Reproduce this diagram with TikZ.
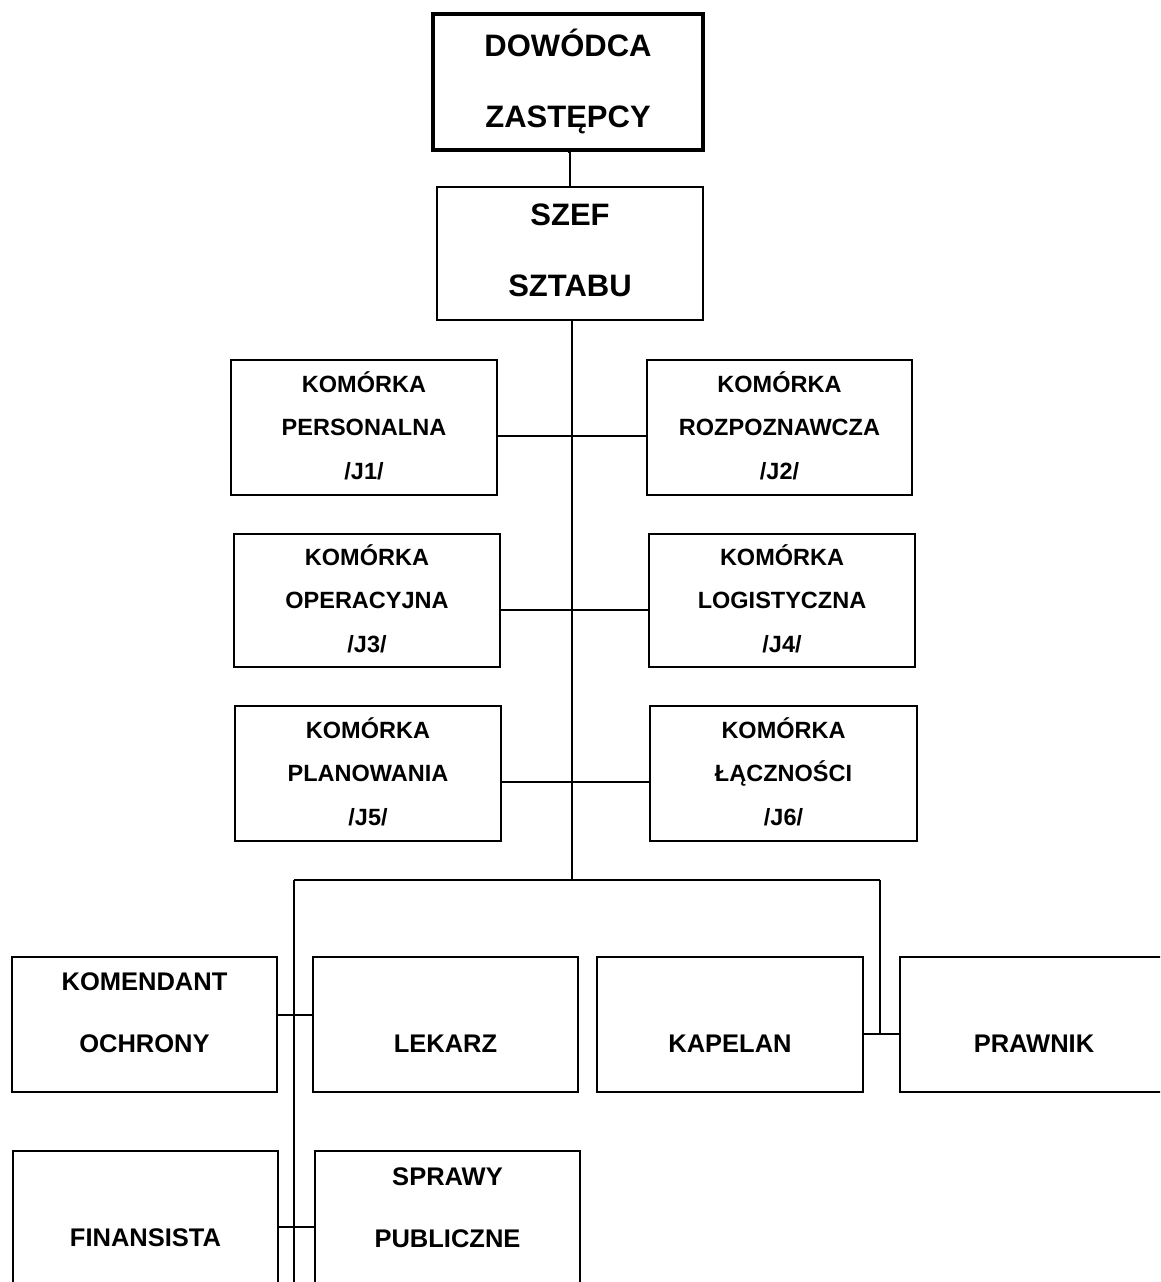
\documentclass[tikz,border=0pt]{standalone}
\usepackage{fontspec}
\setmainfont{Liberation Sans}
\begin{document}
\begin{tikzpicture}[x=1pt,y=-1pt,
  unit/.style={draw, line width=1.3pt, inner sep=0pt, minimum width=266pt, minimum height=135pt},
  chief/.style={unit, line width=4pt, minimum width=270pt, minimum height=136pt},
  link/.style={line width=1.3pt},
  bigtxt/.style={align=center, inner sep=0pt, font=\bfseries\fontsize{31}{70.5}\selectfont},
  midtxt/.style={align=center, inner sep=0pt, font=\bfseries\fontsize{23.5}{43.5}\selectfont},
  lowtxt/.style={align=center, inner sep=0pt, font=\bfseries\fontsize{25.5}{62}\selectfont}
]
\clip (0,0) rectangle (1160,1282);
\fill[white] (0,0) rectangle (1160,1282);

% command and chief of staff
\node[chief] (dow) at (568,82) {};
\node[bigtxt] (dow-t) at ([yshift=0.5pt]dow.center) {DOWÓDCA\\ZASTĘPCY};
\node[unit, minimum height=133pt] (szef) at (570,253.5) {};
\node[bigtxt] (szef-t) at ([yshift=3pt]szef.center) {SZEF\\SZTABU};

% staff cells J1--J6
\node[unit] (j1) at (364,427.5) {};
\node[unit, minimum width=265pt] (j2) at (779.5,427.5) {};
\node[unit, minimum height=133pt] (j3) at (367,600.5) {};
\node[unit, minimum height=133pt] (j4) at (782,600.5) {};
\node[unit] (j5) at (368,773.5) {};
\node[unit, minimum width=267pt] (j6) at (783.5,773.5) {};
\node[midtxt] (j1-t) at ([yshift=2pt]j1.center) {KOMÓRKA\\PERSONALNA\\/J1/};
\node[midtxt] (j2-t) at ([yshift=2pt]j2.center) {KOMÓRKA\\ROZPOZNAWCZA\\/J2/};
\node[midtxt] (j3-t) at ([yshift=2pt]j3.center) {KOMÓRKA\\OPERACYJNA\\/J3/};
\node[midtxt] (j4-t) at ([yshift=2pt]j4.center) {KOMÓRKA\\LOGISTYCZNA\\/J4/};
\node[midtxt] (j5-t) at ([yshift=2pt]j5.center) {KOMÓRKA\\PLANOWANIA\\/J5/};
\node[midtxt] (j6-t) at ([yshift=2pt]j6.center) {KOMÓRKA\\ŁĄCZNOŚCI\\/J6/};

% special staff
\node[unit, minimum width=265pt] (kom) at (144.5,1024.5) {};
\node[unit, minimum width=265pt] (lek) at (445.5,1024.5) {};
\node[unit] (kap) at (730,1024.5) {};
\node[unit] (pra) at (1033,1024.5) {};
\node[unit, minimum width=265pt] (fin) at (145.5,1218.5) {};
\node[unit, minimum width=265pt] (spr) at (447.5,1218.5) {};
\node[lowtxt] (kom-t) at ([yshift=11.5pt]kom.center) {KOMENDANT\\OCHRONY};
\node[lowtxt] (lek-t) at ([yshift=-19.5pt]lek.center) {LEKARZ};
\node[lowtxt] (kap-t) at ([yshift=-19.5pt]kap.center) {KAPELAN};
\node[lowtxt] (pra-t) at ([xshift=1pt,yshift=-19.5pt]pra.center) {PRAWNIK};
\node[lowtxt] (fin-t) at ([yshift=-19.5pt]fin.center) {FINANSISTA};
\node[lowtxt] (spr-t) at ([yshift=10.5pt]spr.center) {SPRAWY\\PUBLICZNE};

% connectors
\coordinate (busmid) at (572,880);
\coordinate (busl) at (294,880);
\coordinate (busr) at (880,880);
\coordinate (busend) at (294,1282);
\draw[link] (dow.south) -- (szef.south |- dow.south) -- (szef.north);
\draw[link] (szef.south -| busmid) -- (busmid);
\draw[link] (busl) -- (busr);
\draw[link] (busl) -- (busend);
\draw[link] (busr) -- (busr |- 0,1034);
\draw[link] (j1.east |- 0,436) -- (j2.west |- 0,436);
\draw[link] (j3.east |- 0,610) -- (j4.west |- 0,610);
\draw[link] (j5.east |- 0,782) -- (j6.west |- 0,782);
\draw[link] (kom.east |- 0,1015) -- (lek.west |- 0,1015);
\draw[link] (kap.east |- 0,1034) -- (pra.west |- 0,1034);
\draw[link] (fin.east |- 0,1227) -- (spr.west |- 0,1227);
\end{tikzpicture}
\end{document}
